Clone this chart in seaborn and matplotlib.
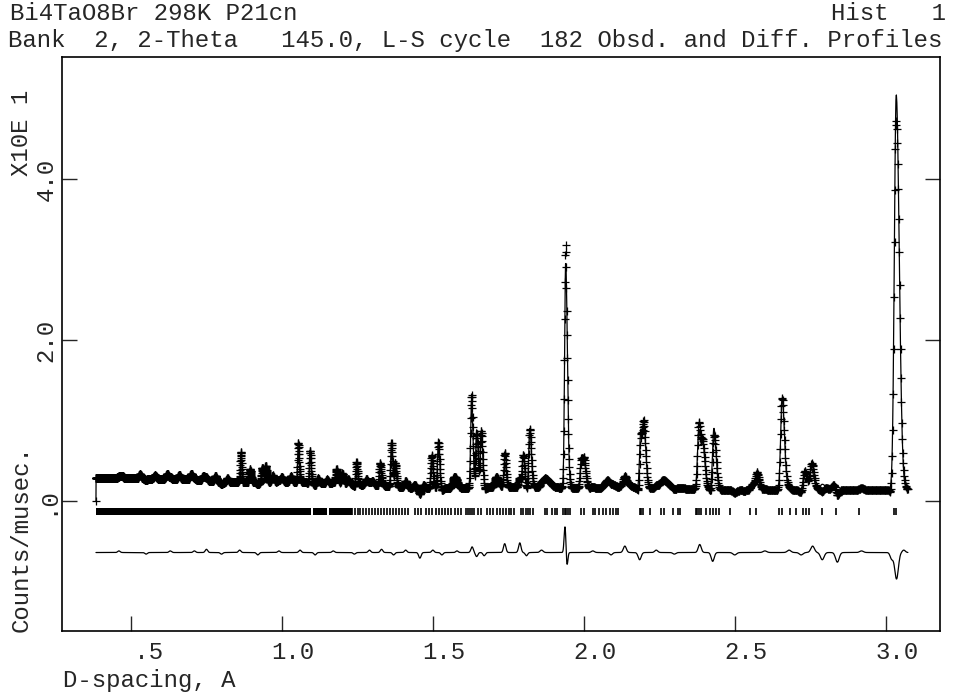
import numpy as np
import pandas as pd
import seaborn as sns
import matplotlib.pyplot as plt
import matplotlib.transforms as mtransforms

sns.set_style("ticks")
plt.rcParams['font.family'] = ['Liberation Mono', 'DejaVu Sans Mono']
plt.rcParams['font.size'] = 17

# --- profile (d-spacing in A, intensity in 10 counts/musec) ---
d_start, d_end, d_step = 0.384, 3.075, 0.0005   # TOF channels: constant dd/d

bkg_d = [0.384, 0.475, 0.696, 0.807, 1.027, 1.137, 1.30, 1.45, 1.54, 1.71,
         1.864, 2.03, 2.30, 2.53, 2.86, 3.00, 3.075]
bkg_i = [0.28, 0.285, 0.27, 0.23, 0.24, 0.22, 0.20, 0.16, 0.16, 0.17,
         0.17, 0.16, 0.16, 0.13, 0.14, 0.14, 0.14]

peak_d = [0.864, 0.894, 0.935, 0.946, 1.054, 1.093, 1.181, 1.200, 1.247, 1.325,
          1.363, 1.375, 1.496, 1.518, 1.571, 1.628, 1.645, 1.660, 1.710, 1.738,
          1.799, 1.821, 1.873, 1.940, 1.992, 2.002, 2.080, 2.136, 2.189, 2.200,
          2.263, 2.381, 2.395, 2.431, 2.560, 2.574, 2.657, 2.732, 2.754, 2.790,
          2.830, 3.035]
peak_h = [0.36, 0.16, 0.18, 0.20, 0.48, 0.40, 0.18, 0.13, 0.28, 0.26,
          0.55, 0.30, 0.39, 0.57, 0.14, 1.09, 0.72, 0.70, 0.13, 0.32,
          0.40, 0.73, 0.11, 2.80, 0.37, 0.28, 0.10, 0.07, 0.72, 0.67,
          0.10, 0.74, 0.50, 0.76, 0.08, 0.19, 1.15, 0.24, 0.26, 0.07,
          0.08, 4.91]
peak_w = [0.0016, 0.0025, 0.0025, 0.0025, 0.0019, 0.0020, 0.003, 0.003, 0.0022, 0.0024,
          0.0025, 0.0025, 0.0027, 0.0027, 0.005, 0.0029, 0.0030, 0.0030, 0.005, 0.0031,
          0.0032, 0.0033, 0.009, 0.0035, 0.0036, 0.0036, 0.010, 0.010, 0.0039, 0.0039,
          0.010, 0.0043, 0.0043, 0.0044, 0.007, 0.0046, 0.0048, 0.0049, 0.0050, 0.007,
          0.007, 0.0062]

# small unresolved humps in the short-d background
hump_d = [0.47, 0.53, 0.58, 0.62, 0.66, 0.70, 0.74, 0.78, 0.82, 0.97,
          1.00, 1.03, 1.12, 1.15, 1.22, 1.28, 1.30, 1.41, 1.44, 1.47]
hump_h = [0.03, 0.05, 0.04, 0.06, 0.05, 0.07, 0.06, 0.07, 0.05, 0.08,
          0.06, 0.07, 0.06, 0.05, 0.06, 0.07, 0.05, 0.05, 0.04, 0.04]

# obs - calc features of the difference curve
diff_d = [0.46, 0.55, 0.63, 0.71, 0.75, 0.80, 0.86, 0.92, 0.99, 1.06,
          1.11, 1.17, 1.24, 1.29, 1.33, 1.37, 1.41, 1.457, 1.50, 1.53,
          1.58, 1.630, 1.645, 1.67, 1.738, 1.788, 1.81, 1.86, 1.938, 1.944,
          2.03, 2.09, 2.136, 2.185, 2.24, 2.30, 2.384, 2.427, 2.50, 2.60,
          2.68, 2.72, 2.758, 2.790, 2.840, 2.92, 3.020, 3.036, 3.06]
diff_a = [0.02, -0.02, 0.02, 0.02, 0.04, -0.02, 0.03, -0.03, 0.02, 0.03,
          -0.03, 0.02, -0.02, 0.03, 0.04, -0.03, 0.03, -0.07, 0.03, -0.03,
          0.02, 0.07, -0.05, -0.04, 0.11, 0.12, -0.04, 0.03, 0.34, -0.18,
          0.02, -0.03, 0.08, -0.09, 0.03, -0.02, 0.10, -0.11, -0.03, 0.02,
          0.03, -0.03, 0.08, -0.09, -0.12, 0.02, -0.08, -0.33, 0.03]
diff_w = [0.004, 0.004, 0.004, 0.004, 0.004, 0.004, 0.004, 0.004, 0.004, 0.004,
          0.004, 0.004, 0.004, 0.004, 0.004, 0.004, 0.004, 0.004, 0.004, 0.004,
          0.004, 0.004, 0.004, 0.004, 0.004, 0.004, 0.004, 0.005, 0.003, 0.003,
          0.005, 0.005, 0.005, 0.005, 0.005, 0.005, 0.005, 0.005, 0.006, 0.006,
          0.006, 0.006, 0.006, 0.006, 0.006, 0.006, 0.005, 0.006, 0.005]
diff_offset = -0.64

# reflection markers: merged bands at short d, then single ticks
band_lo = [0.384, 1.104, 1.157]
band_hi = [1.098, 1.150, 1.231]
refl_d = [1.232, 1.242, 1.252, 1.258, 1.268, 1.278, 1.288, 1.298, 1.308, 1.318,
          1.328, 1.338, 1.348, 1.358, 1.368, 1.377, 1.387, 1.397, 1.407, 1.417,
          1.440, 1.450, 1.460, 1.477, 1.487, 1.497, 1.510, 1.520, 1.530, 1.540,
          1.550, 1.560, 1.573, 1.583, 1.593, 1.609, 1.616, 1.623, 1.629, 1.636,
          1.649, 1.659, 1.679, 1.689, 1.699, 1.712, 1.722, 1.732, 1.742, 1.752,
          1.758, 1.768, 1.791, 1.799, 1.807, 1.815, 1.823, 1.832, 1.871, 1.878,
          1.896, 1.904, 1.911, 1.931, 1.937, 1.942, 1.948, 1.954, 1.992, 2.000,
          2.029, 2.036, 2.051, 2.062, 2.075, 2.086, 2.097, 2.108, 2.113, 2.185,
          2.190, 2.196, 2.218, 2.257, 2.265, 2.295, 2.312, 2.320, 2.371, 2.376,
          2.381, 2.389, 2.406, 2.417, 2.428, 2.439, 2.448, 2.483, 2.552, 2.572,
          2.647, 2.655, 2.682, 2.702, 2.726, 2.735, 2.746, 2.789, 2.834, 2.912,
          3.026, 3.035]
refl_lo, refl_hi = -0.174, -0.083

xticks = [0.5, 1.0, 1.5, 2.0, 2.5, 3.0]
xticklabels = [" .5", "1.0", "1.5", "2.0", "2.5", "3.0"]
yticks = [0.0, 2.0, 4.0]
yticklabels = [".0", "2.0", "4.0"]


def bumps(d, centers, heights, widths, asym=1.0):
    out = np.zeros_like(d)
    for c, h, s in zip(centers, heights, widths):
        sd = np.where(d < c, s, s * asym)
        out += h * np.exp(-0.5 * ((d - c) / sd) ** 2)
    return out


n = int(np.log(d_end / d_start) / np.log(1 + d_step)) + 1
d = d_start * (1 + d_step) ** np.arange(n)
calc = (np.interp(d, bkg_d, bkg_i)
        + bumps(d, peak_d, peak_h, peak_w, asym=1.6)
        + bumps(d, hump_d, hump_h, [0.004] * len(hump_d)))
diff = bumps(d, diff_d, diff_a, diff_w)
obs = calc + diff
calc[0] = 0.0
obs[0] = 0.0
df = pd.DataFrame({"d": d, "obs": obs, "calc": calc, "diff": diff + diff_offset})

fig = plt.figure(figsize=(9.56, 6.92), dpi=100)
ax = fig.add_axes([62 / 956, 1 - 631 / 692, 878 / 956, 574 / 692])

sns.scatterplot(data=df, x="d", y="obs", marker="+", s=30, color="black",
                linewidth=0.9, ax=ax, legend=False)
sns.lineplot(data=df, x="d", y="calc", color="black", lw=0.9,
             estimator=None, sort=False, ax=ax)
sns.lineplot(data=df, x="d", y="diff", color="black", lw=0.9,
             estimator=None, sort=False, ax=ax)

for lo, hi in zip(band_lo, band_hi):
    ax.fill_between([lo, hi], refl_lo, refl_hi, color="black", lw=0)
ax.vlines(refl_d, refl_lo, refl_hi, color="black", lw=1.2)

ax.set_xlim(0.2715, 3.18)
ax.set_ylim(-1.615, 5.516)
ax.set_xticks(xticks)
ax.set_xticklabels(xticklabels, fontsize=17.3)
ax.set_yticks(yticks)
ax.set_yticklabels(yticklabels, rotation=90, va="center", fontsize=17.3)
ax.set_xlabel("")
ax.set_ylabel("")
for s in ax.spines.values():
    s.set_visible(True)
    s.set_linewidth(1.2)
    s.set_color("black")
ax.tick_params(axis="x", direction="in", length=10.5, width=1, pad=7, bottom=True, top=False)
ax.tick_params(axis="y", direction="in", length=10.5, width=1, pad=3, left=True, right=True)
shift = mtransforms.ScaledTranslation(0.11, 0, fig.dpi_scale_trans)
for lab in ax.get_xticklabels():
    lab.set_transform(lab.get_transform() + shift)

fig.text(10 / 956, 1 - 14 / 692, "Bi4TaO8Br 298K P21cn", ha="left", va="center", fontsize=17.3)
fig.text(946 / 956, 1 - 14 / 692, "Hist   1", ha="right", va="center", fontsize=17.3)
fig.text(8 / 956, 1 - 41 / 692,
         "Bank  2, 2-Theta   145.0, L-S cycle  182 Obsd. and Diff. Profiles",
         ha="left", va="center", fontsize=17.3)
fig.text(63 / 956, 1 - 680 / 692, "D-spacing, A", ha="left", va="center", fontsize=17.3)
fig.text(21 / 956, 1 - 632 / 692, "Counts/musec.", rotation=90, ha="center", va="bottom",
         fontsize=17.3)
fig.text(21 / 956, 1 - 90 / 692, "X10E 1", rotation=90, ha="center", va="top", fontsize=17.3)

fig.savefig("out.png", dpi=100)
